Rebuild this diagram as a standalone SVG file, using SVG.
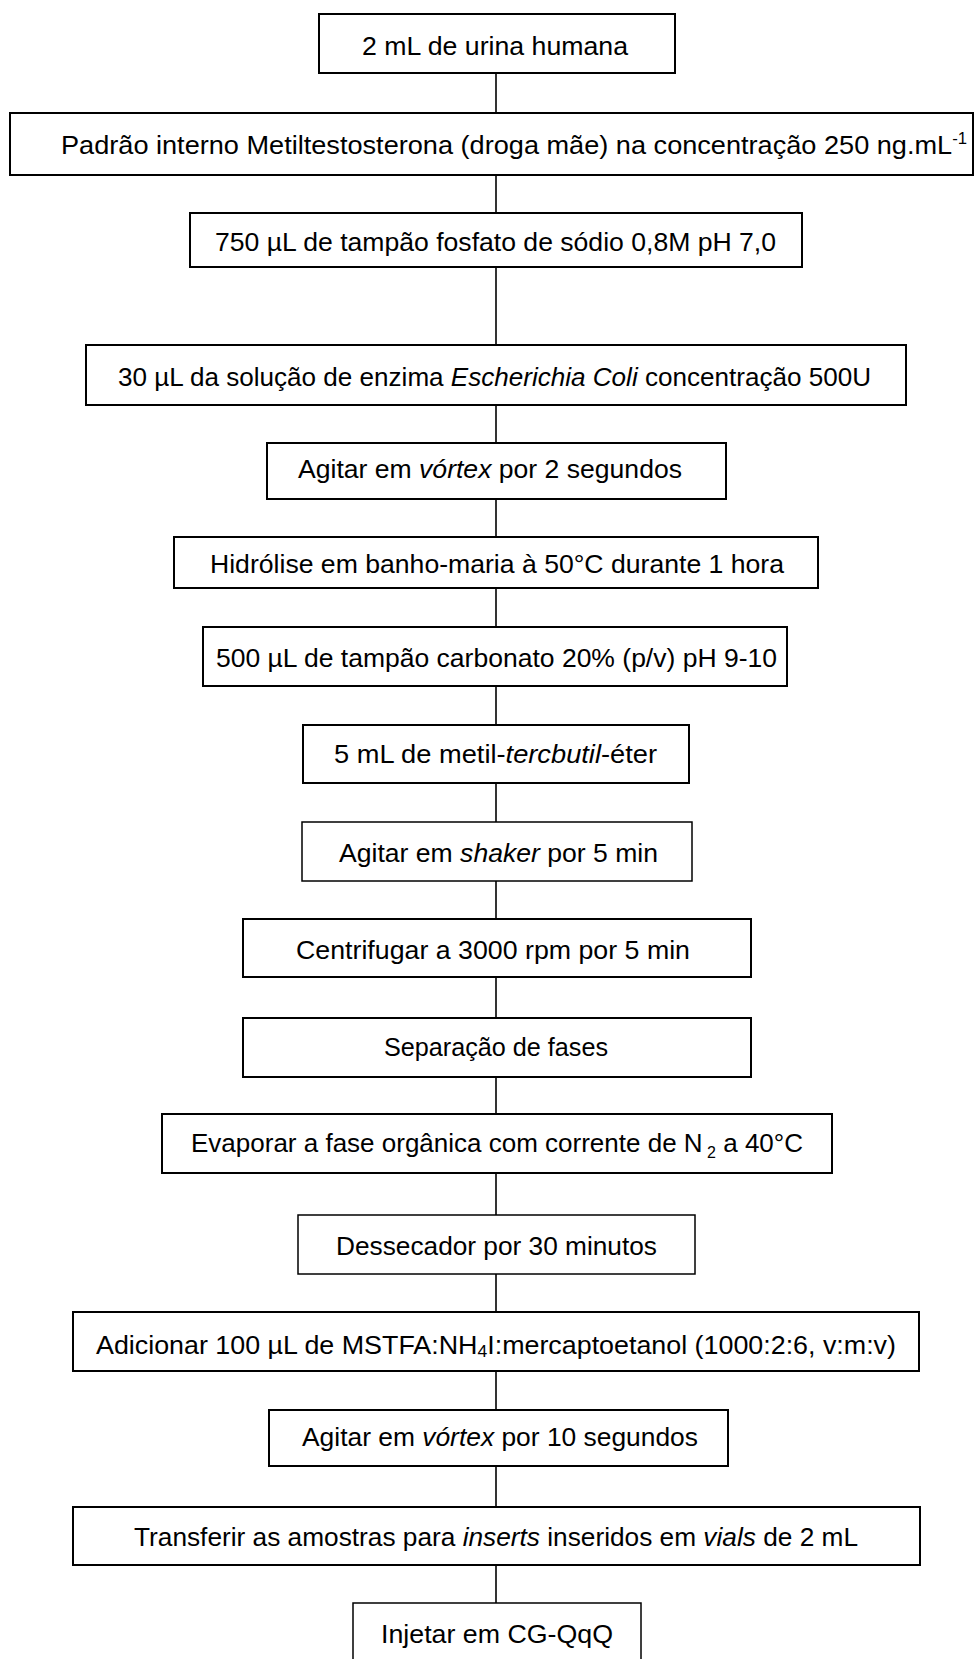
<svg xmlns="http://www.w3.org/2000/svg" width="975" height="1659" viewBox="0 0 975 1659">
<style>
.box{fill:#fff;stroke:#000;stroke-width:2}
.thin{stroke-width:1.5}
.t{font-family:"Liberation Sans",Arial,sans-serif;font-size:26px;fill:#000}
.i{font-style:italic}
.con line{stroke:#000;stroke-width:1.6}
</style>
<rect width="975" height="1659" fill="#fff"/>
<g class="con" id="connectors">
<line x1="496" y1="73" x2="496" y2="113"/>
<line x1="496" y1="175" x2="496" y2="213"/>
<line x1="496" y1="267" x2="496" y2="345"/>
<line x1="496" y1="405" x2="496" y2="443"/>
<line x1="496" y1="499" x2="496" y2="537"/>
<line x1="496" y1="588" x2="496" y2="627"/>
<line x1="496" y1="686" x2="496" y2="725"/>
<line x1="496" y1="783" x2="496" y2="822"/>
<line x1="496" y1="881" x2="496" y2="919"/>
<line x1="496" y1="977" x2="496" y2="1018"/>
<line x1="496" y1="1077" x2="496" y2="1114"/>
<line x1="496" y1="1173" x2="496" y2="1215"/>
<line x1="496" y1="1274" x2="496" y2="1312"/>
<line x1="496" y1="1371" x2="496" y2="1410"/>
<line x1="496" y1="1466" x2="496" y2="1507"/>
<line x1="496" y1="1565" x2="496" y2="1603"/>
</g>
<g id="n1"><rect class="box" x="319" y="14" width="356" height="59"/><text class="t" x="362" y="55" textLength="266" lengthAdjust="spacingAndGlyphs">2 mL de urina humana</text></g>
<g id="n2"><rect class="box" x="10" y="113" width="963" height="62"/><text class="t" x="61" y="154" textLength="906" lengthAdjust="spacingAndGlyphs">Padrão interno Metiltestosterona (droga mãe) na concentração 250 ng.mL<tspan font-size="16" dy="-10">-1</tspan></text></g>
<g id="n3"><rect class="box" x="190" y="213" width="612" height="54"/><text class="t" x="215" y="251" textLength="561" lengthAdjust="spacingAndGlyphs">750 µL de tampão fosfato de sódio 0,8M pH 7,0</text></g>
<g id="n4"><rect class="box" x="86" y="345" width="820" height="60"/><text class="t" x="118" y="386" textLength="753" lengthAdjust="spacingAndGlyphs">30 µL da solução de enzima <tspan class="i">Escherichia Coli</tspan> concentração 500U</text></g>
<g id="n5"><rect class="box" x="267" y="443" width="459" height="56"/><text class="t" x="298" y="478" textLength="384" lengthAdjust="spacingAndGlyphs">Agitar em <tspan class="i">vórtex</tspan> por 2 segundos</text></g>
<g id="n6"><rect class="box" x="174" y="537" width="644" height="51"/><text class="t" x="210" y="573" textLength="574" lengthAdjust="spacingAndGlyphs">Hidrólise em banho-maria à 50°C durante 1 hora</text></g>
<g id="n7"><rect class="box" x="203" y="627" width="584" height="59"/><text class="t" x="216" y="667" textLength="561" lengthAdjust="spacingAndGlyphs">500 µL de tampão carbonato 20% (p/v) pH 9-10</text></g>
<g id="n8"><rect class="box" x="303" y="725" width="386" height="58"/><text class="t" x="334" y="763" textLength="323" lengthAdjust="spacingAndGlyphs">5 mL de metil-<tspan class="i">tercbutil</tspan>-éter</text></g>
<g id="n9"><rect class="box thin" x="302" y="822" width="390" height="59"/><text class="t" x="339" y="862" textLength="319" lengthAdjust="spacingAndGlyphs">Agitar em <tspan class="i">shaker</tspan> por 5 min</text></g>
<g id="n10"><rect class="box" x="243" y="919" width="508" height="58"/><text class="t" x="296" y="959" textLength="394" lengthAdjust="spacingAndGlyphs">Centrifugar a 3000 rpm por 5 min</text></g>
<g id="n11"><rect class="box" x="243" y="1018" width="508" height="59"/><text class="t" x="384" y="1056" textLength="224" lengthAdjust="spacingAndGlyphs">Separação de fases</text></g>
<g id="n12"><rect class="box" x="162" y="1114" width="670" height="59"/><text class="t" x="191" y="1152" textLength="612" lengthAdjust="spacingAndGlyphs">Evaporar a fase orgânica com corrente de N<tspan font-size="16" dy="6"> 2</tspan><tspan dy="-6">  a 40°C</tspan></text></g>
<g id="n13"><rect class="box thin" x="298" y="1215" width="397" height="59"/><text class="t" x="336" y="1255" textLength="321" lengthAdjust="spacingAndGlyphs">Dessecador por 30 minutos</text></g>
<g id="n14"><rect class="box" x="73" y="1312" width="846" height="59"/><text class="t" x="96" y="1354" textLength="800" lengthAdjust="spacingAndGlyphs">Adicionar 100 µL de MSTFA:NH<tspan font-size="17" dy="3">4</tspan><tspan dy="-3">I:mercaptoetanol (1000:2:6, v:m:v)</tspan></text></g>
<g id="n15"><rect class="box" x="269" y="1410" width="459" height="56"/><text class="t" x="302" y="1446" textLength="396" lengthAdjust="spacingAndGlyphs">Agitar em <tspan class="i">vórtex</tspan> por 10 segundos</text></g>
<g id="n16"><rect class="box" x="73" y="1507" width="847" height="58"/><text class="t" x="134" y="1546" textLength="724" lengthAdjust="spacingAndGlyphs">Transferir as amostras para <tspan class="i">inserts</tspan> inseridos em <tspan class="i">vials</tspan> de 2 mL</text></g>
<g id="n17"><rect class="box thin" x="353" y="1603" width="288" height="70"/><text class="t" x="381" y="1643" textLength="232" lengthAdjust="spacingAndGlyphs">Injetar em CG-QqQ</text></g>
</svg>
